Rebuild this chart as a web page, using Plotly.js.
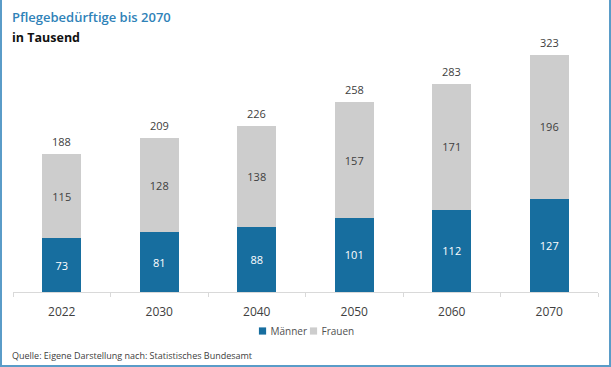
<!DOCTYPE html>
<html>
<head>
<meta charset="utf-8">
<script src="https://cdn.plot.ly/plotly-3.0.1.min.js"></script>
<style>
html,body{margin:0;padding:0;background:#fff;}
#frame{width:611px;height:367px;box-sizing:border-box;border-left:2px solid #5a9cc8;border-right:2px solid #5a9cc8;border-bottom:2px solid #5a9cc8;position:relative;overflow:hidden;}
#chart{position:absolute;left:-2px;top:0;width:611px;height:367px;}
.legend .legendpoints path{transform:translate(32px,0) scale(0.6);}
.legend .scrollbox{clip-path:none !important;}
.legend .bg{display:none;}
</style>
</head>
<body>
<div id="frame"><div id="chart"></div></div>
<script>
const years = ["2022","2030","2040","2050","2060","2070"];
const maenner = [73,81,88,101,112,127];
const frauen = [115,128,138,157,171,196];
const totals = [188,209,226,258,283,323];

const font = "'Open Sans', 'Noto Sans', sans-serif";
const traces = [
  {type:'bar', name:'Männer', x:years, y:maenner, marker:{color:'#176e9f'},
   text:maenner.map(String), textposition:'inside', insidetextanchor:'middle', textangle:0,
   constraintext:'none', textfont:{color:'#ffffff', size:11, family:font}, hoverinfo:'none'},
  {type:'bar', name:'Frauen', x:years, y:frauen, marker:{color:'#cdcdcd'},
   text:frauen.map(String), textposition:'inside', insidetextanchor:'middle', textangle:0,
   constraintext:'none', textfont:{color:'#404040', size:11, family:font}, hoverinfo:'none'}
];

function py(p){ return (292 - p) / 252; }

// x given as category index so the annotation sits on the category axis
const totalAnn = years.map((yr, i) => ({
  xref:'x', yref:'y', x:i, y:totals[i], xanchor:'center', yanchor:'bottom', yshift:3,
  text:String(totals[i]), showarrow:false, font:{size:11, color:'#404040', family:font}
}));

const layout = {
  width:611, height:367,
  margin:{l:13, r:13, t:40, b:75},
  paper_bgcolor:'#ffffff', plot_bgcolor:'#ffffff',
  barmode:'stack', bargap:0.6,
  font:{family:font, color:'#404040'},
  xaxis:{type:'category', range:[-0.5, years.length - 0.5], autorange:false,
         showgrid:false, showline:true, linecolor:'#d9d9d9', linewidth:1,
         ticks:'outside', tickson:'boundaries', ticklen:4, tickcolor:'#d9d9d9',
         ticklabelstandoff:9,
         tickfont:{size:12, color:'#404040', family:font}, zeroline:false},
  yaxis:{range:[0,343], autorange:false, visible:false, showgrid:false, zeroline:false},
  showlegend:true,
  legend:{orientation:'h', x:0.459, xanchor:'center', y:py(331), yanchor:'middle',
          font:{size:10, color:'#505050', family:font}, entrywidth:6, entrywidthmode:'pixels',
          itemwidth:30, traceorder:'normal'},
  annotations:totalAnn.concat([
    {xref:'paper', yref:'paper', x:0, xshift:-3, xanchor:'left', yanchor:'middle', y:py(17),
     text:'Pflegebedürftige bis 2070', showarrow:false,
     font:{size:13, color:'#2f82b8', family:font, weight:600}},
    {xref:'paper', yref:'paper', x:0, xshift:-3, xanchor:'left', yanchor:'middle', y:py(37),
     text:'in Tausend', showarrow:false,
     font:{size:12.5, color:'#111111', family:font, weight:700}},
    {xref:'paper', yref:'paper', x:0, xshift:-3, xanchor:'left', yanchor:'middle', y:py(355),
     text:'Quelle: Eigene Darstellung nach: Statistisches Bundesamt', showarrow:false,
     font:{size:9, color:'#404040', family:font}}
  ])
};
Plotly.newPlot('chart', traces, layout, {displayModeBar:false, staticPlot:true});
</script>
</body>
</html>
